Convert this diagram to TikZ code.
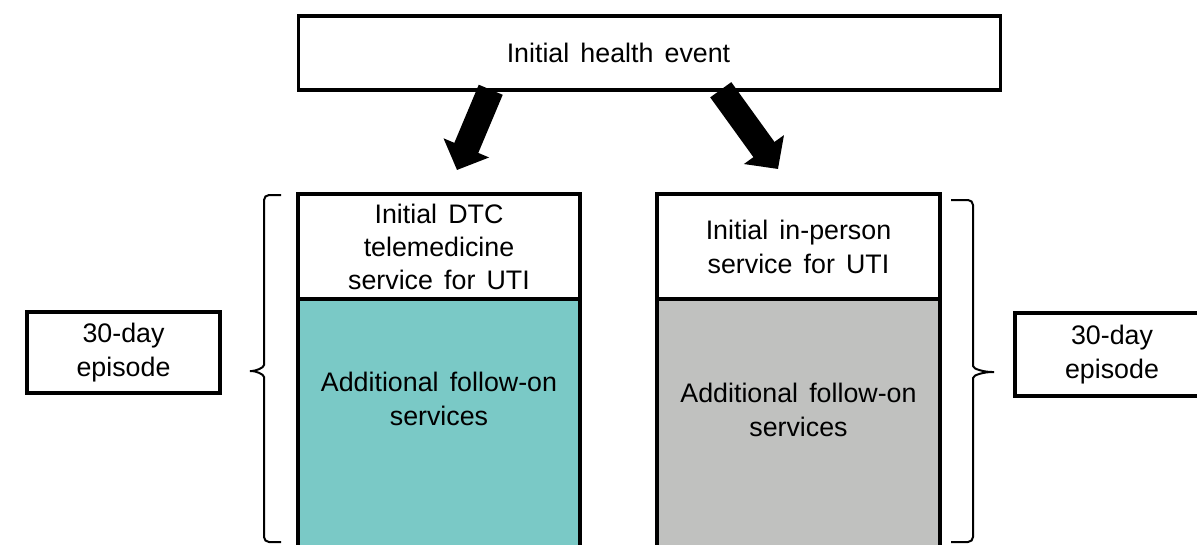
\documentclass[tikz,border=0pt]{standalone}
\usepackage{fontspec}
\setmainfont{Liberation Sans}[WordSpace=1.5]
\usetikzlibrary{arrows.meta,calc}
\definecolor{tealfill}{HTML}{7AC9C6}
\definecolor{grayfill}{HTML}{C0C1BF}
\begin{document}
\begin{tikzpicture}[x=1pt,y=-1pt,
  box/.style={draw=black, line width=3.5pt, inner sep=0pt, align=center,
    font=\fontsize{26.8}{34}\selectfont},
  bigarrow/.style={line width=26pt, -{Triangle[length=24pt,width=48pt]}},
  bracestyle/.style={draw=black, line width=2pt, rounded corners=5pt}
]
\useasboundingbox (0,0) rectangle (1197,544);
\clip (0,0) rectangle (1197,544);

% top event
\node[box, minimum width=702pt, minimum height=74pt] (top) at (649.5,53) {Initial health event\hspace*{62pt}};

% left column
\node[box, fill=tealfill, minimum width=282pt, minimum height=262pt] (lbot) at (439,430) {Additional follow-on\\services\\[28pt]};
\node[box, fill=white, minimum width=282pt, minimum height=105pt] (ltop) at (439,246.5) {Initial DTC\\[-1pt]telemedicine\\[-1pt]service for UTI};

% right column
\node[box, fill=grayfill, minimum width=283pt, minimum height=262pt] (rbot) at (798.5,430) {Additional follow-on\\services\\[6pt]};
\node[box, fill=white, minimum width=283pt, minimum height=105pt] (rtop) at (798.5,246.5) {Initial in-person\\service for UTI};

% episode labels
\node[box, minimum width=193pt, minimum height=81pt] (llab) at (123.5,352.5) {30-day\\episode};
\node[box, minimum width=194pt, minimum height=83pt] (rlab) at (1112,354.5) {30-day\\episode};

% arrows
\coordinate (a1s) at ($(top.south west)+(194,-2)$);
\coordinate (a1e) at (457,170);
\coordinate (a2s) at ($(top.south west)+(424,-2)$);
\coordinate (a2e) at (778,169);
\draw[bigarrow] (a1s) -- (a1e);
\draw[bigarrow] (a2s) -- (a2e);

% braces
\coordinate (lb1) at (281,195);
\coordinate (lbt) at (247,371);
\coordinate (lb2) at (281,542);
\draw[bracestyle] (lb1) -- (264,195) -- (264,360)
  .. controls (264,368) and (255,371) .. (lbt)
  .. controls (255,371) and (264,374) .. (264,382) -- (264,542) -- (lb2);
\coordinate (rb1) at (951,200);
\coordinate (rbt) at (997,372);
\coordinate (rb2) at (951,542);
\draw[bracestyle] (rb1) -- (973,200) -- (973,361)
  .. controls (973,369) and (984,372) .. (rbt)
  .. controls (984,372) and (973,375) .. (973,383) -- (973,542) -- (rb2);
\end{tikzpicture}
\end{document}
